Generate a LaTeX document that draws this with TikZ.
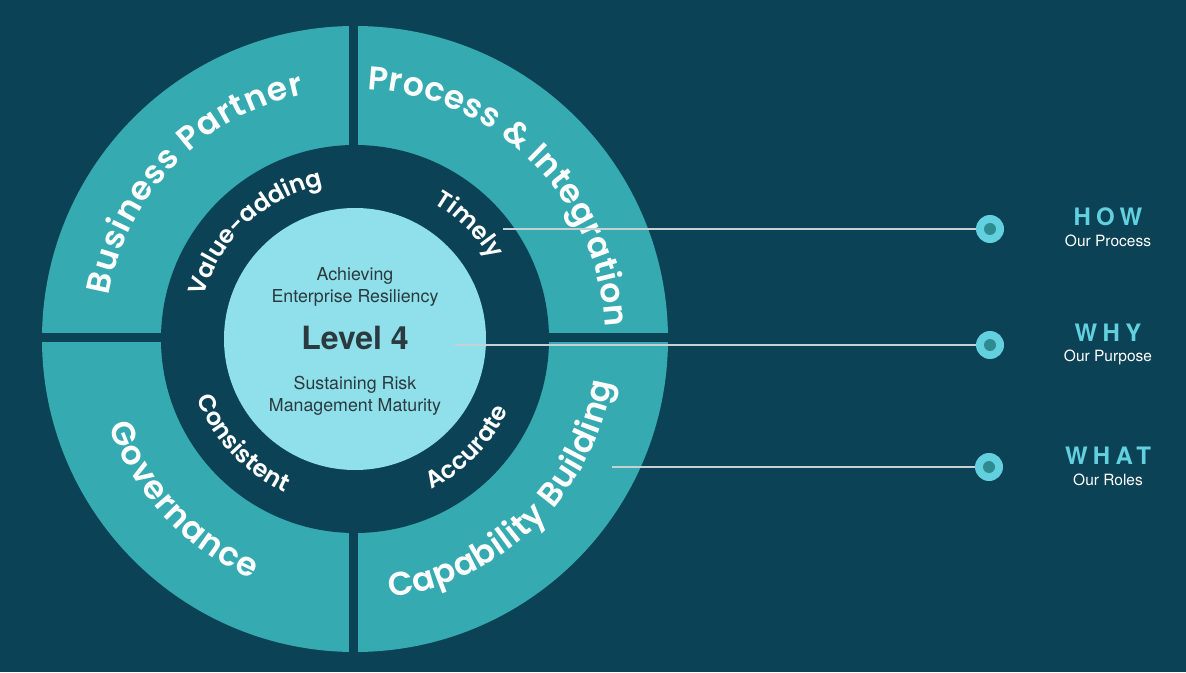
\documentclass[tikz,border=0pt]{standalone}
\usepackage{fontspec}
\usetikzlibrary{decorations.text}
\setmainfont{TeX Gyre Heros}
\newfontfamily\ringfontx{Poppins SemiBold}
\newfontfamily\capsfont[LetterSpace=22]{TeX Gyre Heros}
\definecolor{bgcol}{HTML}{0C4255}
\definecolor{ringcol}{HTML}{35AAB1}
\definecolor{corecol}{HTML}{8FE0EA}
\definecolor{inkcol}{HTML}{2B3A3F}
\definecolor{cyancol}{HTML}{62D0DE}
\definecolor{dotcol}{HTML}{2E8C8F}
\definecolor{linkcol}{HTML}{C6D1D4}
\newcommand\outerring{\ringfontx\fontsize{33}{33}\selectfont}
\newcommand\innerring{\ringfontx\fontsize{24}{24}\selectfont}
\begin{document}
\begin{tikzpicture}[x=1pt,y=1pt,
ring text/.style={decorate,decoration={text along path,text align=center,text color=white,text={#1}}},
core/.style={circle,fill=corecol,minimum size=262pt,inner sep=0pt},
mid text/.style={align=center,text=inkcol,font=\fontsize{17.8}{21.5}\selectfont},
marker/.style={circle,fill=cyancol,minimum size=28pt,inner sep=0pt,
  path picture={\fill[dotcol] (path picture bounding box.center) circle[radius=6];}},
link/.style={draw=linkcol,line width=1.6pt},
head/.style={text=cyancol,font=\capsfont\bfseries\fontsize{24}{24}\selectfont},
sub/.style={text=white,font=\fontsize{15.5}{15.5}\selectfont}]
\fill[bgcol] (-355,-333) rectangle (831,339);
\fill[ringcol] (0,0) circle[radius=313];
\fill[bgcol] (0,0) circle[radius=194];
\draw[bgcol,line width=9pt] (-320,1.5) -- (320,1.5);
\draw[bgcol,line width=9pt] (-1.5,-320) -- (-1.5,320);
\node[core] (core) at (0,0) {};

\def\ro{250}
\def\rb{261}
\def\ri{157}
\def\rj{169}
\path[ring text={|\outerring\kern1.2pt|Business Partner}] (200:\ro) arc[start angle=200,end angle=72,radius=\ro];
\path[ring text={|\outerring\kern0.5pt|Process {\&} Integration}] (105:\ro) arc[start angle=105,end angle=-15,radius=\ro];
\path[ring text={|\outerring\kern1pt|Governance}] (163:\rb) arc[start angle=163,end angle=283,radius=\rb];
\path[ring text={|\outerring\kern0.6pt|Capability Building}] (254:\rb) arc[start angle=254,end angle=374,radius=\rb];
\path[ring text={|\innerring|Value-adding}] (193:\ri) arc[start angle=193,end angle=73,radius=\ri];
\path[ring text={|\innerring|Timely}] (105:\ri) arc[start angle=105,end angle=-15,radius=\ri];
\path[ring text={|\innerring|Consistent}] (163:\rj) arc[start angle=163,end angle=283,radius=\rj];
\path[ring text={|\innerring|Accurate}] (256:\rj) arc[start angle=256,end angle=376,radius=\rj];

\node[mid text] (achieve) at (0,52) {Achieving\\Enterprise Resiliency};
\node[text=inkcol,font=\bfseries\fontsize{32}{32}\selectfont] (level) at (0,1) {Level 4};
\node[mid text] (sustain) at (0,-57) {Sustaining Risk\\Management Maturity};

\coordinate (howin) at (148,110);
\coordinate (whyin) at (100,-6);
\coordinate (whatin) at (257,-128);
\node[marker] (how) at (635,110) {};
\node[marker] (why) at (635,-6) {};
\node[marker] (what) at (634,-128) {};
\draw[link] (howin) -- (how);
\draw[link] (whyin) -- (why);
\draw[link] (whatin) -- (what);

\node[head] (howhead) at (753,122) {HOW};
\node[sub] (howsub) at (753,98) {Our Process};
\node[head] (whyhead) at (753,6) {WHY};
\node[sub] (whysub) at (753,-18) {Our Purpose};
\node[head] (whathead) at (753,-117) {WHAT};
\node[sub] (whatsub) at (753,-141) {Our Roles};
\end{tikzpicture}
\end{document}
